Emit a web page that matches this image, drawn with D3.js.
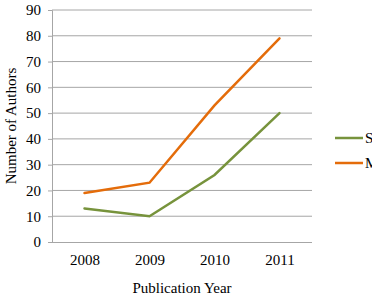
<!DOCTYPE html>
<html>
<head>
<meta charset="utf-8">
<script src="https://cdn.jsdelivr.net/npm/d3@7"></script>
<style>
  body { margin: 0; background: #fff; }
  text { font-family: "Liberation Serif", "Times New Roman", serif; fill: #000; }
</style>
</head>
<body>
<div id="chart"></div>
<script>
// data
var years = ["2008", "2009", "2010", "2011"];
var yTicks = [0, 10, 20, 30, 40, 50, 60, 70, 80, 90];
var seriesNames = ["S", "M"];
var singleVals = [13, 10, 26, 50];
var multiVals = [19, 23, 53, 79];
var seriesColors = ["#77933c", "#e46c0a"];

var svgWidth = 372, svgHeight = 296;
var margin = { top: 10, right: 60, bottom: 54, left: 52 };
var chartWidth = svgWidth - margin.left - margin.right;
var chartHeight = svgHeight - margin.top - margin.bottom;

var svg = d3.select("#chart").append("svg")
  .attr("width", svgWidth)
  .attr("height", svgHeight);

var chartGroup = svg.append("g")
  .attr("transform", `translate(${margin.left}, ${margin.top})`);

// scales
var xScale = d3.scalePoint()
  .domain(years)
  .range([0, chartWidth])
  .padding(0.5);

var yScale = d3.scaleLinear()
  .domain([0, 90])
  .range([chartHeight, 0]);

// gridlines
chartGroup.append("g")
  .selectAll("line")
  .data(yTicks.slice(1))
  .enter()
  .append("line")
  .attr("x1", 0)
  .attr("x2", chartWidth)
  .attr("y1", d => yScale(d))
  .attr("y2", d => yScale(d))
  .attr("stroke", "#a6a6a6")
  .attr("stroke-width", 1);

// y axis
var leftAxis = d3.axisLeft(yScale).tickValues(yTicks).tickSize(4).tickPadding(7);
var yAxis = chartGroup.append("g").call(leftAxis);
yAxis.select(".domain").attr("stroke", "#a6a6a6");
yAxis.selectAll(".tick line").attr("stroke", "#a6a6a6");
yAxis.selectAll("text").attr("font-size", "15px");

// x axis
var bottomAxis = d3.axisBottom(xScale).tickSize(0).tickPadding(12);
var xAxis = chartGroup.append("g")
  .attr("transform", `translate(0, ${chartHeight})`)
  .call(bottomAxis);
xAxis.select(".domain").attr("stroke", "#a6a6a6").attr("d", `M0,0.5H${chartWidth}`);
xAxis.selectAll("text").attr("font-size", "15px");

// lines
var allSeries = [singleVals, multiVals];
var line = d3.line()
  .x((d, i) => xScale(years[i]))
  .y(d => yScale(d));

chartGroup.selectAll(".series")
  .data(allSeries)
  .enter()
  .append("path")
  .attr("class", "series")
  .attr("d", d => line(d))
  .attr("fill", "none")
  .attr("stroke", (d, i) => seriesColors[i])
  .attr("stroke-width", 2.5)
  .attr("stroke-linecap", "round");

// axis titles
svg.append("text")
  .attr("x", margin.left + chartWidth / 2)
  .attr("y", 293)
  .attr("text-anchor", "middle")
  .attr("font-size", "15px")
  .text("Publication Year");

svg.append("text")
  .attr("transform", `translate(16, ${margin.top + chartHeight / 2}) rotate(-90)`)
  .attr("text-anchor", "middle")
  .attr("font-size", "15px")
  .text("Number of Authors");

// legend
var legend = svg.append("g");
seriesNames.forEach(function(name, i) {
  var ly = 138 + i * 25;
  legend.append("line")
    .attr("x1", 335).attr("x2", 363)
    .attr("y1", ly).attr("y2", ly)
    .attr("stroke", seriesColors[i])
    .attr("stroke-width", 2.5);
  legend.append("text")
    .attr("x", 365)
    .attr("y", ly + 5)
    .attr("font-size", "15px")
    .text(name);
});
</script>
</body>
</html>
